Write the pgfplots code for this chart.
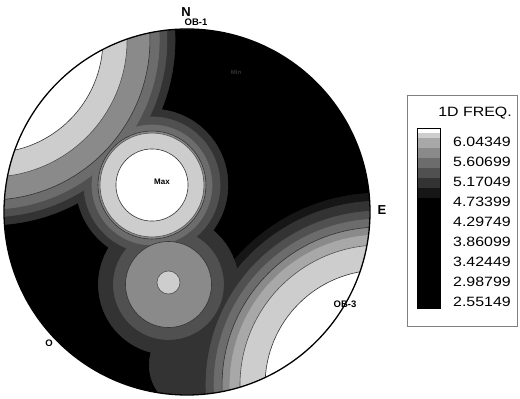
\documentclass[border=0pt]{standalone}
\usepackage{fontspec}
\setmainfont{Liberation Sans}
\newfontfamily\legfont[FakeStretch=1.18]{Liberation Sans}
\usepackage{pgfplots}
\usepackage{pgfplotstable}
\pgfplotsset{compat=1.18}

\definecolor{cA}{HTML}{000000}
\definecolor{cB}{HTML}{161616}
\definecolor{cC}{HTML}{333333}
\definecolor{cD}{HTML}{505050}
\definecolor{cE}{HTML}{6C6C6C}
\definecolor{cF}{HTML}{8A8A8A}
\definecolor{cG}{HTML}{A8A8A8}
\definecolor{cH}{HTML}{CDCDCD}
\definecolor{cI}{HTML}{FFFFFF}

% contour levels as disks: centre (x,y) and radius r, in units of the net radius
\pgfplotstableread{
x y r
0 0 1.000
}\levA
\pgfplotstableread{
x y r
1.0546 -0.9454 1.049
}\levB
\pgfplotstableread{
x y r
-1.0765 0.9399 1.011
-0.1913 0.1475 0.415
-0.3934 0.5027 0.180
-0.1011 -0.3962 0.383
0.0437 -0.8361 0.250
1.0546 -0.9454 1.005
}\levC
\pgfplotstableread{
x y r
-1.0765 0.9399 0.967
-0.1913 0.1475 0.372
-0.3934 0.5027 0.120
-0.1011 -0.3962 0.301
1.0546 -0.9454 0.951
}\levD
\pgfplotstableread{
x y r
-1.0765 0.9399 0.925
-0.1913 0.1475 0.328
1.0546 -0.9454 0.907
}\levE
\pgfplotstableread{
x y r
-1.0765 0.9399 0.874
-0.1913 0.1475 0.295
-0.1011 -0.3962 0.235
1.0546 -0.9454 0.863
}\levF
\pgfplotstableread{
x y r
1.0546 -0.9454 0.820
}\levG
\pgfplotstableread{
x y r
-1.0765 0.9399 0.749
-0.1913 0.1475 0.284
-0.1011 -0.3852 0.063
1.0546 -0.9454 0.765
}\levH
\pgfplotstableread{
x y r
-1.0765 0.9399 0.617
-0.1913 0.1475 0.197
1.0546 -0.9454 0.628
}\levI

\newcommand{\disks}[3]{%
  \addplot[scatter, only marks, mark=*,
    scatter/use mapped color={draw=#3, fill=#2, line width=0.6pt},
    visualization depends on={\thisrow{r} \as \myrad},
    scatter/@pre marker code/.append style={/tikz/mark size=\myrad*183pt}]
    table[x=x, y=y] {#1};}

\newcommand{\swatch}[3]{%
  \fill[#1] (axis cs:1.2568,#2) rectangle (axis cs:1.3825,#3);}

\newcommand{\leglab}[2]{%
  \node[anchor=west, inner sep=0pt, font=\legfont\fontsize{13.5}{14}\selectfont] at (axis cs:1.4536,#2) {#1};}

\begin{document}
\begin{tikzpicture}
\begin{axis}[
  set layers=standard,
  x=183pt, y=183pt,
  xmin=-1.021858, xmax=1.819672,
  ymin=-1.021858, ymax=1.158470,
  hide axis, clip=false,
]
\disks{\levA}{cA}{cA}
\disks{\levB}{cB}{cB}
\disks{\levC}{cC}{cC}
\disks{\levD}{cD}{cD}
\disks{\levE}{cE}{cE}
\disks{\levF}{cF}{cC}
\disks{\levG}{cG}{cG}
\disks{\levH}{cH}{cD}
\disks{\levI}{cI}{cC}
\begin{pgfonlayer}{axis foreground}
% mask outside the net
\fill[white, even odd rule] (rel axis cs:0,0) rectangle (rel axis cs:1,1)
  (axis cs:0,0) circle[radius=183pt];
\draw[black, line width=1.3pt] (axis cs:0,0) circle[radius=183pt];

% labels
\node[font=\bfseries\fontsize{13}{13}\selectfont] at (axis cs:-0.0055,1.0929) {N};
\node[font=\bfseries\fontsize{9.5}{10}\selectfont] at (axis cs:0.0492,1.0383) {OB-1};
\node[font=\bfseries\fontsize{13}{13}\selectfont] at (axis cs:1.0656,0.0109) {E};
\node[font=\bfseries\fontsize{9.5}{10}\selectfont] at (axis cs:0.8634,-0.5027) {OB-3};
\node[font=\bfseries\fontsize{9.5}{10}\selectfont] at (axis cs:-0.7541,-0.7158) {O};
\node[font=\bfseries\fontsize{8}{8}\selectfont] at (axis cs:-0.1366,0.1640) {Max};
\node[font=\bfseries\fontsize{6}{6}\selectfont, text=cC] at (axis cs:0.2678,0.7650) {Min};

% legend
\draw[gray, line width=0.8pt] (axis cs:1.2022,0.6393) rectangle (axis cs:1.8033,-0.6230);
\node[font=\legfont\fontsize{13.5}{14}\selectfont] at (axis cs:1.5738,0.5410) {1D FREQ.};
\swatch{cA}{-0.5246}{0.0765}
\swatch{cB}{0.0765}{0.1311}
\swatch{cC}{0.1311}{0.1858}
\swatch{cD}{0.1858}{0.2404}
\swatch{cE}{0.2404}{0.2951}
\swatch{cF}{0.2951}{0.3497}
\swatch{cG}{0.3497}{0.4044}
\swatch{cH}{0.4044}{0.4317}
\swatch{cI}{0.4317}{0.4590}
\draw[black, line width=0.6pt] (axis cs:1.2568,-0.5246) rectangle (axis cs:1.3825,0.4590);
\leglab{6.04349}{0.3825}
\leglab{5.60699}{0.2732}
\leglab{5.17049}{0.1639}
\leglab{4.73399}{0.0546}
\leglab{4.29749}{-0.0546}
\leglab{3.86099}{-0.1639}
\leglab{3.42449}{-0.2732}
\leglab{2.98799}{-0.3825}
\leglab{2.55149}{-0.4918}
\end{pgfonlayer}
\end{axis}
\pgfresetboundingbox
\path[use as bounding box] (current axis.south west) rectangle (current axis.north east);
\end{tikzpicture}
\end{document}
